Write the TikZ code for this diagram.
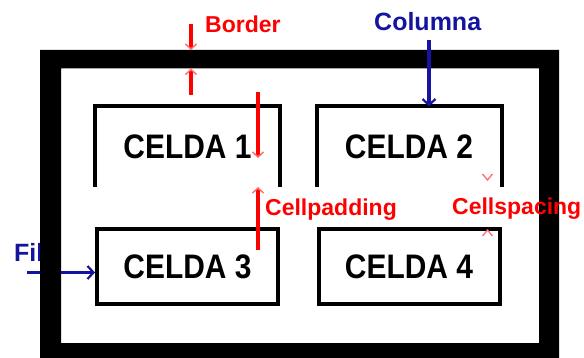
\documentclass[tikz,border=0pt]{standalone}
\usepackage{fontspec}
\setmainfont{Liberation Sans}
\newfontfamily\celdafont{Liberation Sans}[FakeStretch=0.88]
\usetikzlibrary{arrows.meta}
\definecolor{lblue}{RGB}{20,20,160}
\definecolor{tipred}{RGB}{255,110,110}
\begin{document}
\begin{tikzpicture}[x=1pt,y=-1pt,
 cellbox/.style={minimum width=181pt,minimum height=75pt,inner sep=0pt,font=\celdafont\bfseries\fontsize{34}{38}\selectfont,line width=4pt},
 redlbl/.style={text=red,font=\bfseries\fontsize{23}{26}\selectfont,inner sep=0pt,anchor=west},
 bluelbl/.style={text=lblue,font=\bfseries\fontsize{25}{28}\selectfont,inner sep=0pt,anchor=west},
 redarr/.style={draw=red,line width=3.5pt,-{Straight Barb[length=5pt,width=11pt,line width'=1.5pt,color=tipred]}},
 bluearr/.style={draw=lblue,line width=3.5pt,-{Straight Barb[length=6pt,width=13pt,line width'=2.2pt]}},
 chev/.style={draw=tipred,line width=1.3pt},
]
\useasboundingbox (0,0) rectangle (584,358);
\clip (0,0) rectangle (584,358);
% cells
\node[cellbox,minimum height=76.5pt] (c1) at (187.5,146.75) {CELDA 1};
\node[cellbox,minimum height=76.5pt] (c2) at (409,146.75) {CELDA 2};
\node[cellbox,draw] (c3) at (187.5,266.5) {CELDA 3};
\node[cellbox,draw] (c4) at (409,266.5) {CELDA 4};
\draw[line width=4pt] (c1.south west) -- (c1.north west) -- (c1.north east) -- (c1.south east);
\draw[line width=4pt] (c2.south west) -- (c2.north west) -- (c2.north east) -- (c2.south east);
% labels
\node[redlbl] (border) at (205,24) {Border};
\node[bluelbl] (columna) at (374,22) {Columna};
\node[redlbl] (cellpad) at (265,210) {Cellpadding};
\node[bluelbl] (fila) at (14,253) {Fila};
% frame coordinates
\coordinate (frOut) at (40,50);
\coordinate (frIn) at (61,68.5);
% Fila arrow (behind the frame)
\coordinate (filaS) at (27,272.5);
\draw[bluearr] (filaS) -- (filaS -| c3.west);
% frame
\fill[black,even odd rule] (frOut) rectangle (559,370) (frIn) rectangle (539,343);
% label over the frame
\node[redlbl] (cellspc) at (452,209) {Cellspacing};
% Border arrows
\coordinate (bT) at (191,24);
\coordinate (bB) at (191,95);
\draw[redarr] (bT) -- (bT |- frOut);
\draw[redarr] (bB) -- (bB |- frIn);
% Columna arrow
\coordinate (colS) at (429,40);
\draw[bluearr] (colS) -- (colS |- c2.north);
% Cellpadding arrows
\coordinate (cpT) at (258,92);
\coordinate (cpE) at (258,158);
\coordinate (cpB) at (258,250);
\draw[redarr] (cpT) -- (cpE);
\draw[redarr] (cpB) -- (cpB |- c1.south);
% Cellspacing chevrons
\draw[chev] (482.5,174) -- (487.5,180) -- (492.5,174);
\draw[chev] (482.5,236) -- (487.5,230) -- (492.5,236);
\end{tikzpicture}
\end{document}
